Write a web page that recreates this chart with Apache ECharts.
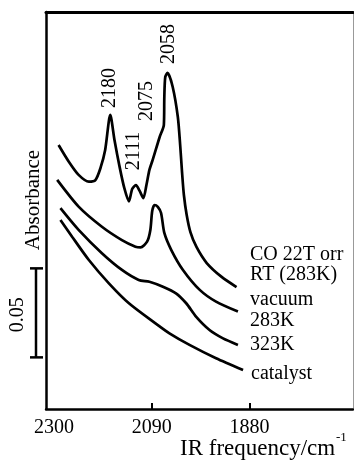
<!DOCTYPE html>
<html>
<head>
<meta charset="UTF-8">
<title>IR spectra</title>
<script src="https://cdn.jsdelivr.net/npm/echarts@6/dist/echarts.min.js"></script>
<style>html,body{margin:0;padding:0;background:#fff;}</style>
</head>
<body>
<div id="chart" style="width:354px;height:469px;"></div>
<script>
// [wavenumber cm-1, absorbance]
var coTorr = [[2290,0.1483],[2268,0.1389],[2247,0.1315],[2225,0.1277],[2211,0.1286],[2200,0.1354],[2190,0.1455],[2179,0.1652],
    [2170,0.1511],[2159,0.1360],[2149,0.1242],[2139,0.1166],[2132,0.1236],[2124,0.1258],[2116,0.1225],[2108,0.1185],[2101,0.1264],[2095,0.1343],
    [2088,0.1399],[2073,0.1528],[2064,0.1596],[2063,0.1753],[2061,0.1865],[2056,0.1888],[2045,0.1809],[2034,0.1640],[2029,0.1483],[2025,0.1331],
    [2021,0.1202],[2015,0.1090],[2007,0.0994],[1994,0.0910],[1972,0.0820],[1940,0.0742],[1908,0.0685]];
var vacuum283 = [[2293,0.1287],[2247,0.1137],[2197,0.1024],[2154,0.0949],[2125,0.0912],[2114,0.0908],[2100,0.0940],[2093,0.1006],[2089,0.1112],
    [2084,0.1146],[2077,0.1135],[2070,0.1101],[2063,0.0989],[2048,0.0893],[2023,0.0781],[1987,0.0669],[1952,0.0603],[1905,0.0547]];
var k323 = [[2286,0.1128],[2247,0.1006],[2197,0.0875],[2154,0.0781],[2118,0.0725],[2095,0.0715],[2066,0.0687],[2038,0.0650],
    [2016,0.0594],[1995,0.0519],[1966,0.0444],[1937,0.0397],[1905,0.0360]];
var catalyst = [[2286,0.1062],[2261,0.0968],[2225,0.0837],[2182,0.0706],[2139,0.0594],[2082,0.0481],[2052,0.0425],[2009,0.0360],
    [1952,0.0285],[1894,0.0219]];
var tickLabels = [2300, 2090, 1880];
var tickMarks = [2090, 1880];
var scaleBar = [0.029, 0.079];

var serif = '"Liberation Serif", "DejaVu Serif", serif';
var chart = echarts.init(document.getElementById('chart'), null, { renderer: 'canvas' });

function curve(data) {
    return {
        type: 'line', data: data, smooth: 0.25, symbol: 'none',
        lineStyle: { color: '#000', width: 2.7 }, silent: true
    };
}

chart.setOption({
    animation: false,
    backgroundColor: '#fff',
    grid: { left: 46, right: 1, top: 12, bottom: 60 },
    xAxis: [{
        type: 'value', inverse: true, min: 1658, max: 2317, position: 'bottom',
        axisLine: { onZero: false, lineStyle: { color: '#000', width: 2.5 } },
        axisTick: { inside: true, length: 6, customValues: tickMarks, lineStyle: { color: '#000', width: 2 } },
        axisLabel: {
            customValues: tickLabels, margin: 9, color: '#000', fontFamily: serif, fontSize: 20,
            formatter: function (v) { return String(v); }
        },
        splitLine: { show: false }
    }, {
        type: 'value', inverse: true, min: 1658, max: 2317, position: 'top',
        axisLine: { onZero: false, lineStyle: { color: '#000', width: 3 } },
        axisTick: { show: false }, axisLabel: { show: false }, splitLine: { show: false }
    }],
    yAxis: [{
        type: 'value', min: 0, max: 0.223, position: 'left',
        axisLine: { show: true, onZero: false, lineStyle: { color: '#000', width: 2.5 } },
        axisTick: { show: false }, axisLabel: { show: false }, splitLine: { show: false }
    }, {
        type: 'value', min: 0, max: 0.223, position: 'right',
        axisLine: { show: true, onZero: false, lineStyle: { color: '#999', width: 1 } },
        axisTick: { show: false }, axisLabel: { show: false }, splitLine: { show: false }
    }],
    series: [curve(coTorr), curve(vacuum283), curve(k323), curve(catalyst)]
});

// annotations
var y0 = chart.convertToPixel({ yAxisIndex: 0 }, scaleBar[0]);
var y1 = chart.convertToPixel({ yAxisIndex: 0 }, scaleBar[1]);
var barX = 36;

function txt(t, x, y, size, rot, align) {
    return {
        type: 'text', x: x, y: y, rotation: rot || 0,
        style: {
            text: t, x: 0, y: 0, font: size + 'px ' + serif, fill: '#000',
            textAlign: align || 'center', textVerticalAlign: 'middle',
            align: align || 'center', verticalAlign: 'middle'
        }
    };
}

chart.setOption({
    graphic: [
        { type: 'line', shape: { x1: barX, y1: y0, x2: barX, y2: y1 }, style: { stroke: '#000', lineWidth: 2.5 } },
        { type: 'line', shape: { x1: barX - 6, y1: y0, x2: barX + 7, y2: y0 }, style: { stroke: '#000', lineWidth: 2.5 } },
        { type: 'line', shape: { x1: barX - 6, y1: y1, x2: barX + 7, y2: y1 }, style: { stroke: '#000', lineWidth: 2.5 } },
        txt('0.05', 18, (y0 + y1) / 2 + 2, 20, Math.PI / 2),
        txt('Absorbance', 33, 200, 21, Math.PI / 2),
        txt('2180', 110, 88, 20, Math.PI / 2),
        txt('2111', 134, 151, 20, Math.PI / 2),
        txt('2075', 147, 101, 20, Math.PI / 2),
        txt('2058', 169, 44, 20, Math.PI / 2),
        txt('CO 22T orr', 250, 255, 20, 0, 'left'),
        txt('RT (283K)', 250, 275, 20, 0, 'left'),
        txt('vacuum', 250, 300, 20, 0, 'left'),
        txt('283K', 250, 321, 20, 0, 'left'),
        txt('323K', 250, 345, 20, 0, 'left'),
        txt('catalyst', 251, 374, 20, 0, 'left'),
        txt('IR frequency/cm', 180, 449, 23, 0, 'left'),
        txt('-1', 336, 438, 13, 0, 'left')
    ]
});
</script>
</body>
</html>
